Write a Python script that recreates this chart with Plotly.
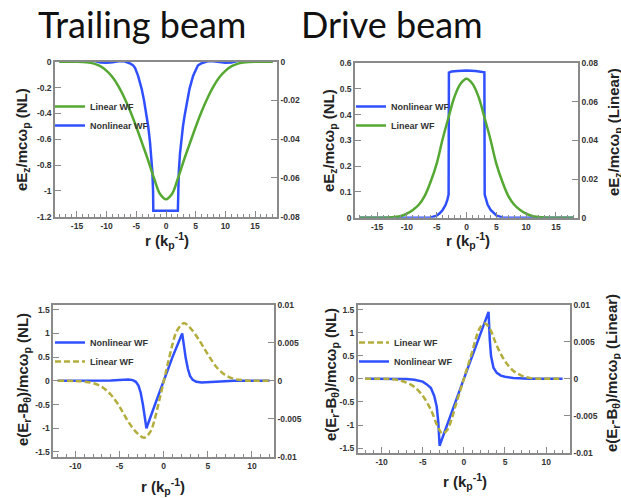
import plotly.graph_objects as go

W, H = 621, 498

# ---------------- data ----------------
# Trailing beam, Ez
tl_r_nl = [-18, -12, -11, -10, -9, -8, -7, -6.5, -6, -5.5, -5.2, -4.7, -4.1, -3.7, -3.3, -3.0, -2.7,
           -2.5, -2.3, -2.18, -2.14, 2.0, 2.04, 2.16, 2.36, 2.56, 2.86, 3.16, 3.56, 3.96, 4.56,
           5.06, 5.36, 5.86, 6.36, 7, 8, 9, 10, 11, 12, 18]
tl_ez_nl = [0.005, 0.005, -0.006, -0.008, -0.004, 0.003, 0.003, -0.005, -0.015, -0.03, -0.05, -0.11,
            -0.21, -0.3, -0.41, -0.5, -0.62, -0.71, -0.85, -1.0, -1.153, -1.153, -1.0, -0.85, -0.71,
            -0.62, -0.5, -0.41, -0.3, -0.21, -0.11, -0.05, -0.03, -0.015, -0.005, 0.003, 0.003,
            -0.004, -0.008, -0.006, 0.005, 0.005]
tl_r_lin = [-18, -17, -16, -15, -14, -13, -12, -11, -10, -9, -8, -7, -6, -5, -4, -3, -2, -1, 0,
            1, 2, 3, 4, 5, 6, 7, 8, 9, 10, 11, 12, 13, 14, 15, 16, 17, 18]
tl_ez_lin = [0, 0, 0, 0, -0.0001, -0.0004, -0.0011, -0.0024, -0.0047, -0.008, -0.0127, -0.0187,
             -0.0257, -0.0337, -0.0423, -0.051, -0.0603, -0.0683, -0.071, -0.0683, -0.0603, -0.051,
             -0.0423, -0.0337, -0.0257, -0.0187, -0.0127, -0.008, -0.0047, -0.0024, -0.0011,
             -0.0004, -0.0001, 0, 0, 0, 0]

# Drive beam, Ez
tr_r_nl = [-18, -7, -6, -5, -4.5, -4, -3.5, -3.2, -3.0, -2.95, -2.5, -1.5, 0, 1.5, 2.5, 3.0, 3.05,
           3.25, 3.55, 4.05, 4.55, 5.05, 6.05, 7, 18]
tr_ez_nl = [0, 0, 0.001, 0.008, 0.017, 0.03, 0.05, 0.07, 0.09, 0.563, 0.567, 0.569, 0.571, 0.569,
            0.567, 0.564, 0.09, 0.07, 0.05, 0.03, 0.017, 0.008, 0.001, 0, 0]
tr_r_lin = tl_r_lin
tr_ez_lin = [0, 0, 0, 0, 0, 0.0001, 0.0004, 0.0009, 0.0021, 0.004, 0.0067, 0.0113, 0.0187, 0.028,
             0.0407, 0.052, 0.0627, 0.0693, 0.0719, 0.0693, 0.0627, 0.052, 0.0407, 0.028, 0.0187,
             0.0113, 0.0067, 0.004, 0.0021, 0.0009, 0.0004, 0.0001, 0, 0, 0, 0, 0]

# Trailing beam, Er - B_theta
bl_r_nl = [-12, -8, -7, -6, -5, -4.5, -4, -3.5, -3.15, -2.85, -2.6, -2.35, -2.15, -1.95, -1, 0, 1,
           2.1, 2.3, 2.5, 2.75, 3.0, 3.3, 3.7, 4.3, 5, 6, 7, 8, 12]
bl_f_nl = [0, 0, 0.001, 0.006, 0.02, 0.03, 0.03, 0.015, -0.02, -0.1, -0.25, -0.5, -0.74, -1.0,
           -0.51, 0, 0.5, 1.0, 0.72, 0.48, 0.25, 0.1, 0.02, -0.02, -0.035, -0.03, -0.012, -0.003,
           0, 0]
bl_r_lin = [-12, -10, -9, -8, -7, -6, -5, -4, -3, -2.2, -1.5, -1, -0.5, 0, 0.5, 1, 1.5, 2.3, 3, 4,
            5, 6, 7, 8, 9, 10, 12]
bl_f_lin = [0, -0.00002, -0.0001, -0.0003, -0.0008, -0.0018, -0.0034, -0.0054, -0.0069, -0.0075,
            -0.0067, -0.005, -0.0026, -0.0001, 0.0024, 0.0048, 0.0066, 0.0076, 0.007, 0.0054,
            0.0035, 0.0018, 0.00075, 0.00025, 0.00008, 0.00002, 0]

# Drive beam, Er - B_theta
br_r_nl = [-12, -8, -7, -6, -5, -4.5, -4, -3.6, -3.3, -3.1, -2.95, 0, 3.0, 3.15, 3.3, 3.6, 4.0,
           4.5, 5, 6, 7, 8, 12]
br_f_nl = [0, 0, -0.005, -0.02, -0.06, -0.12, -0.2, -0.37, -0.6, -0.95, -1.45, 0, 1.45, 0.85, 0.5,
           0.24, 0.13, 0.07, 0.045, 0.018, 0.005, 0, 0]
br_r_lin = [-12, -9, -8, -7, -6, -5, -4, -3.2, -2.6, -2, -1.5, -1, -0.5, 0, 0.5, 1, 1.5, 2, 2.6,
            3.2, 4, 5, 6, 7, 8, 9, 12]
br_f_lin = [0, -0.00003, -0.00015, -0.0005, -0.0011, -0.0023, -0.0042, -0.0064, -0.0074, -0.0069,
            -0.0055, -0.0036, -0.0018, 0, 0.0018, 0.0036, 0.0056, 0.007, 0.0075, 0.0067, 0.0045,
            0.0024, 0.0011, 0.00045, 0.00013, 0.00003, 0]

# tick labels
x_top_ticks = [-15, -10, -5, 0, 5, 10, 15]
x_bot_ticks = [-10, -5, 0, 5, 10]
tl_y_ticks = [0, -0.2, -0.4, -0.6, -0.8, -1, -1.2]
tl_y_text = ["0", "-0.2", "-0.4", "-0.6", "-0.8", "-1", "-1.2"]
tl_y2_ticks = [0, -0.02, -0.04, -0.06, -0.08]
tl_y2_text = ["0", "-0.02", "-0.04", "-0.06", "-0.08"]
tr_y_ticks = [0, 0.1, 0.2, 0.3, 0.4, 0.5, 0.6]
tr_y_text = ["0", "0.1", "0.2", "0.3", "0.4", "0.5", "0.6"]
tr_y2_ticks = [0, 0.02, 0.04, 0.06, 0.08]
tr_y2_text = ["0", "0.02", "0.04", "0.06", "0.08"]
b_y_ticks = [-1.5, -1, -0.5, 0, 0.5, 1, 1.5]
b_y_text = ["-1.5", "-1", "-0.5", "0", "0.5", "1", "1.5"]
b_y2_ticks = [-0.01, -0.005, 0, 0.005, 0.01]
b_y2_text = ["-0.01", "-0.005", "0", "0.005", "0.01"]

# ---------------- styling ----------------
BLUE = "#3050ff"
GREEN = "#55a832"
OLIVE = "#b3ad3c"
FRAME = "#8a8a8a"
TICKFONT = dict(family="Liberation Sans, Arial, sans-serif", size=8.5, color="#333333", weight="bold")
TITLEFONT = dict(family="Liberation Sans, Arial, sans-serif", size=15, color="#222222", weight="bold")
LEGFONT = dict(family="Liberation Sans, Arial, sans-serif", size=9, color="#333333", weight="bold")

EZ = "eE<sub>z</sub>/mcω<sub>p</sub>"
FR = "e(E<sub>r</sub>-B<sub>θ</sub>)/mcω<sub>p</sub>"
XT = "r (k<sub>p</sub><sup>-1</sup>)"


def px_x(p):
    return p / W


def px_y(p):
    return 1 - p / H


def xaxis(dom, rng, anchor, ticks):
    return dict(domain=dom, range=rng, anchor=anchor, showline=True, mirror=True,
                linecolor=FRAME, linewidth=1.5, ticks="inside", ticklen=6, tickwidth=1,
                tickcolor=FRAME, tickmode="array", tickvals=ticks,
                ticktext=[str(t) for t in ticks], tickfont=TICKFONT, showgrid=False,
                zeroline=False,
                minor=dict(ticks="inside", ticklen=3, tickcolor=FRAME, tickmode="array",
                           tickvals=list(range(int(rng[0]), int(rng[1]) + 1))))


def yaxis(dom, rng, anchor, ticks, text, side="left", overlaying=None):
    d = dict(domain=dom, range=rng, anchor=anchor, side=side, showline=True, linecolor=FRAME,
             linewidth=1.5, ticks="inside", ticklen=6, tickwidth=1, tickcolor=FRAME,
             tickmode="array", tickvals=ticks, ticktext=text, tickfont=TICKFONT,
             showgrid=False, zeroline=False, automargin=False)
    if overlaying:
        d["overlaying"] = overlaying
    return d


fig = go.Figure()

# TL: trailing beam Ez (legend order: Linear, Nonlinear)
fig.add_trace(go.Scatter(x=tl_r_lin, y=tl_ez_lin, mode="lines", name="Linear WF",
                         line=dict(color=GREEN, width=2.5, shape="spline"),
                         xaxis="x", yaxis="y2", legend="legend"))
fig.add_trace(go.Scatter(x=tl_r_nl, y=tl_ez_nl, mode="lines", name="Nonlinear WF",
                         line=dict(color=BLUE, width=2.5), xaxis="x", yaxis="y", legend="legend"))
# TR: drive beam Ez (Nonlinear, Linear)
fig.add_trace(go.Scatter(x=tr_r_nl, y=tr_ez_nl, mode="lines", name="Nonlinear WF",
                         line=dict(color=BLUE, width=2.5), xaxis="x2", yaxis="y3",
                         legend="legend2"))
fig.add_trace(go.Scatter(x=tr_r_lin, y=tr_ez_lin, mode="lines", name="Linear WF",
                         line=dict(color=GREEN, width=2.5, shape="spline"),
                         xaxis="x2", yaxis="y4", legend="legend2"))
# BL: trailing beam transverse (Nonlinear, Linear)
fig.add_trace(go.Scatter(x=bl_r_nl, y=bl_f_nl, mode="lines", name="Nonlinear WF",
                         line=dict(color=BLUE, width=2.5), xaxis="x3", yaxis="y5",
                         legend="legend3"))
fig.add_trace(go.Scatter(x=bl_r_lin, y=bl_f_lin, mode="lines", name="Linear WF",
                         line=dict(color=OLIVE, width=2.5, dash="6px,3px", shape="spline"),
                         xaxis="x3", yaxis="y6", legend="legend3"))
# BR: drive beam transverse (Linear, Nonlinear)
fig.add_trace(go.Scatter(x=br_r_lin, y=br_f_lin, mode="lines", name="Linear WF",
                         line=dict(color=OLIVE, width=2.5, dash="6px,3px", shape="spline"),
                         xaxis="x4", yaxis="y8", legend="legend4"))
fig.add_trace(go.Scatter(x=br_r_nl, y=br_f_nl, mode="lines", name="Nonlinear WF",
                         line=dict(color=BLUE, width=2.5), xaxis="x4", yaxis="y7",
                         legend="legend4"))

# panel frames (pixel positions)
tl_x, tl_y = [px_x(55), px_x(277)], [px_y(216.7), px_y(61.7)]
tr_x, tr_y = [px_x(355), px_x(578)], [px_y(217.7), px_y(63)]
bl_x, bl_y = [px_x(53.3), px_x(274)], [px_y(456.7), px_y(305)]
br_x, br_y = [px_x(357.7), px_x(570)], [px_y(452.7), px_y(305)]


def legend(xl, ytop):
    return dict(x=px_x(xl), y=px_y(ytop), xanchor="left", yanchor="top", bgcolor="rgba(0,0,0,0)",
                borderwidth=0, font=LEGFONT, traceorder="normal", itemwidth=30)


fig.update_layout(
    width=W, height=H, margin=dict(l=0, r=0, t=0, b=0),
    paper_bgcolor="white", plot_bgcolor="white", showlegend=True,
    xaxis=xaxis(tl_x, [-18.7, 18.7], "y", x_top_ticks),
    yaxis=yaxis(tl_y, [-1.2, 0], "x", tl_y_ticks, tl_y_text),
    yaxis2=yaxis(tl_y, [-0.08, 0], "x", tl_y2_ticks, tl_y2_text, side="right", overlaying="y"),
    xaxis2=xaxis(tr_x, [-18.7, 18.7], "y3", x_top_ticks),
    yaxis3=yaxis(tr_y, [0, 0.6], "x2", tr_y_ticks, tr_y_text),
    yaxis4=yaxis(tr_y, [0, 0.08], "x2", tr_y2_ticks, tr_y2_text, side="right", overlaying="y3"),
    xaxis3=xaxis(bl_x, [-12.5, 12.5], "y5", x_bot_ticks),
    yaxis5=yaxis(bl_y, [-1.6, 1.6], "x3", b_y_ticks, b_y_text),
    yaxis6=yaxis(bl_y, [-0.01, 0.01], "x3", b_y2_ticks, b_y2_text, side="right", overlaying="y5"),
    xaxis4=xaxis(br_x, [-12.9, 12.9], "y7", x_bot_ticks),
    yaxis7=yaxis(br_y, [-1.6, 1.6], "x4", b_y_ticks, b_y_text),
    yaxis8=yaxis(br_y, [-0.01, 0.01], "x4", b_y2_ticks, b_y2_text, side="right", overlaying="y7"),
    legend=legend(50, 92),
    legend2=legend(351, 92),
    legend3=legend(50, 328),
    legend4=legend(354, 328),
)

ann = []
# main titles
ann.append(dict(text="Trailing beam", x=px_x(142), y=1, xref="paper", yref="paper",
                showarrow=False, xanchor="center", yanchor="top",
                font=dict(family="Lato, sans-serif", size=36, color="#111111")))
ann.append(dict(text="Drive beam", x=px_x(392), y=1, xref="paper", yref="paper",
                showarrow=False, xanchor="center", yanchor="top",
                font=dict(family="Lato, sans-serif", size=36, color="#111111")))


def vt(text, xc, yc):
    return dict(text=text, x=px_x(xc), y=px_y(yc), xref="paper", yref="paper", showarrow=False,
                textangle=-90, xanchor="center", yanchor="middle", font=TITLEFONT)


def ht(text, xc, yc):
    return dict(text=text, x=px_x(xc), y=px_y(yc), xref="paper", yref="paper", showarrow=False,
                xanchor="center", yanchor="middle", font=TITLEFONT)


ann += [
    vt(EZ + " (NL)", 23, 140), vt(EZ + " (NL)", 330, 141), vt(EZ + " (Linear)", 615, 132),
    vt(FR + " (NL)", 23, 380), vt(FR + " (NL)", 331, 375), vt(FR + " (Linear)", 612, 373),
    ht(XT, 167, 240), ht(XT, 468, 240), ht(XT, 163, 486), ht(XT, 465, 481),
]
fig.update_layout(annotations=ann)

fig.write_html("out.html", config={"displayModeBar": False},
               post_script="document.body.style.margin='0';document.body.style.padding='0';")
